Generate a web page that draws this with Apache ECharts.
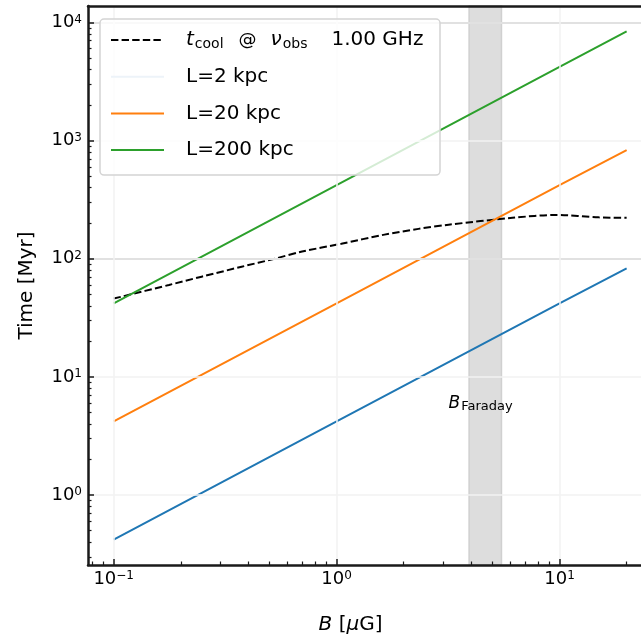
<!DOCTYPE html>
<html><head><meta charset="utf-8">
<script src="https://cdn.jsdelivr.net/npm/echarts@6/dist/echarts.min.js"></script>
<style>html,body{margin:0;padding:0;background:#fff}#c{width:641px;height:637px}</style>
</head><body><div id="c"></div>
<script>
// ---- data ----
const B_cool = [0.1, 0.177, 0.248, 0.375, 0.527, 0.70, 1.05, 1.64, 2.33, 3.18, 6.15, 9.7, 15.0, 20.0];
const t_cool = [46, 60, 70.5, 85.6, 100, 115, 134, 160, 179, 194, 222, 235, 224, 222];
const B_L = [0.1, 1, 10, 20];
const t_L2 = [0.42, 4.2, 42, 83];
const t_L20 = [4.2, 42, 420, 830];
const t_L200 = [42, 420, 4200, 8400];
const hLines = [100, 10000];
const bandB = [3.93, 5.49];
const annoPos = [3.18, 6.0];
const xTickExps = [-1, 0, 1];
const yTickExps = [0, 1, 2, 3, 4];
const xRange = [0.0767, 23.2];
const yRange = [0.256, 13770];

const nameCool = 'tcool';
const seriesNames = ['L=2 kpc', 'L=20 kpc', 'L=200 kpc'];
const colors = ['#1f77b4', '#ff7f0e', '#2ca02c'];

const F = 'DejaVu Sans';
const pairs = (xs, ys) => xs.map((x, i) => [x, ys[i]]);
const pow10 = e => Math.pow(10, e);

function minorVals(lo, hi) {
  const out = [];
  for (let e = Math.floor(Math.log10(lo)); e <= Math.ceil(Math.log10(hi)); e++) {
    for (let m = 2; m <= 9; m++) { const v = m * pow10(e); if (v > lo && v < hi) out.push(v); }
  }
  return out;
}
function tickFmt(v) {
  const e = Math.round(Math.log10(v));
  return '{base|10}{sup|' + (e < 0 ? '\u2212' + (-e) : e) + '}';
}
const tickRich = {
  base: { fontFamily: F, fontSize: 18, lineHeight: 18, color: '#000', verticalAlign: 'bottom', padding: [8, 0, 0, 0] },
  sup: { fontFamily: F, fontSize: 12, lineHeight: 12, color: '#000', verticalAlign: 'top' }
};
const spine = { show: true, onZero: false, lineStyle: { color: '#1a1a1a', width: 2.5 } };

const chart = echarts.init(document.getElementById('c'), null, { renderer: 'canvas' });
const option = {
  animation: false,
  backgroundColor: '#fff',
  grid: { left: 88, top: 6, right: 0, bottom: 72, show: false, containLabel: false, outerBoundsMode: 'none' },
  xAxis: [
    {
      type: 'log', min: xRange[0], max: xRange[1], position: 'bottom', z: 10,
      axisLine: spine,
      axisTick: { show: true, inside: true, length: 6, lineStyle: { color: '#1a1a1a', width: 1.5 }, customValues: xTickExps.map(pow10) },
      axisLabel: { show: true, margin: 5, formatter: tickFmt, rich: tickRich, customValues: xTickExps.map(pow10) },
      splitLine: { show: true, lineStyle: { color: '#f2f2f2', width: 1.5 } },
      minorTick: { show: false },
      name: '{it|B} [{it|\u03bc}G]', nameLocation: 'middle', nameGap: 50,
      nameTextStyle: { fontFamily: F, fontSize: 20, color: '#000', padding: [0, 28, 0, 0],
        rich: { it: { fontFamily: F, fontSize: 20, fontStyle: 'italic', color: '#000' } } }
    },
    {
      type: 'log', min: xRange[0], max: xRange[1], position: 'bottom', z: 10,
      axisLine: { show: false },
      axisTick: { show: true, inside: true, length: 3.5, lineStyle: { color: '#1a1a1a', width: 1.2 }, customValues: minorVals(xRange[0], xRange[1]) },
      axisLabel: { show: false }, splitLine: { show: false }
    },
    {
      type: 'log', min: xRange[0], max: xRange[1], position: 'top', z: 10,
      axisLine: spine, axisTick: { show: false }, axisLabel: { show: false }, splitLine: { show: false }
    }
  ],
  yAxis: [
    {
      type: 'log', min: yRange[0], max: yRange[1], position: 'left', z: 10,
      axisLine: spine,
      axisTick: { show: true, inside: true, length: 6, lineStyle: { color: '#1a1a1a', width: 1.5 }, customValues: yTickExps.map(pow10) },
      axisLabel: { show: true, margin: 6, formatter: tickFmt, rich: tickRich, customValues: yTickExps.map(pow10) },
      splitLine: { show: true, lineStyle: { color: '#f2f2f2', width: 1.5 } },
      name: 'Time [Myr]', nameLocation: 'middle', nameGap: 51, nameRotate: 90,
      nameTextStyle: { fontFamily: F, fontSize: 20, color: '#000' }
    },
    {
      type: 'log', min: yRange[0], max: yRange[1], position: 'left', z: 10,
      axisLine: { show: false },
      axisTick: { show: true, inside: true, length: 3.5, lineStyle: { color: '#1a1a1a', width: 1.2 }, customValues: minorVals(yRange[0], yRange[1]) },
      axisLabel: { show: false }, splitLine: { show: false }
    }
  ],
  legend: {
    orient: 'vertical', left: 100, top: 19,
    padding: [10, 8, 14, 10],
    itemWidth: 53, itemHeight: 14, itemGap: 14.7,
    backgroundColor: 'rgba(255,255,255,0.8)', borderColor: '#d4d4d4', borderWidth: 1.5, borderRadius: 4,
    z: 20,
    itemStyle: { opacity: 0, color: 'transparent', borderWidth: 0 },
    textStyle: {
      fontFamily: F, fontSize: 20, color: '#000', lineHeight: 22, padding: [0, 0, 0, 17], width: 246,
      rich: {
        it: { fontFamily: F, fontSize: 20, fontStyle: 'italic', color: '#000', lineHeight: 22 },
        sub: { fontFamily: F, fontSize: 14, lineHeight: 14, color: '#000', verticalAlign: 'bottom', padding: [7, 0, 0, 1] },
        at: { fontFamily: F, fontSize: 18, color: '#000', lineHeight: 22, padding: [0, 0, 0, 15] },
        nu: { fontFamily: F, fontSize: 20, fontStyle: 'italic', color: '#000', lineHeight: 22, padding: [0, 0, 0, 14] },
        rest: { fontFamily: F, fontSize: 20, color: '#000', lineHeight: 22, padding: [0, 0, 0, 24] }
      }
    },
    formatter: n => n === nameCool ? '{it|t}{sub|cool}{at|@}{nu|\u03bd}{sub|obs}{rest|1.00 GHz}' : n,
    data: [
      { name: nameCool },
      { name: seriesNames[0], lineStyle: { color: '#edf3f9' } },
      { name: seriesNames[1] },
      { name: seriesNames[2] }
    ]
  },
  series: [
    {
      name: 'band', type: 'line', data: [], z: 1, silent: true,
      markArea: {
        silent: true,
        itemStyle: { color: '#dddddd', borderColor: '#d0d0d0', borderWidth: 1.5 },
        data: [[{ xAxis: bandB[0] }, { xAxis: bandB[1] }]]
      },
      markPoint: {
        symbol: 'circle', symbolSize: 0, silent: true,
        data: [{ coord: annoPos }],
        label: {
          show: true, position: 'right', distance: 0,
          formatter: '{bb|B}{ss|Faraday}',
          rich: {
            bb: { fontFamily: F, fontSize: 17, fontStyle: 'italic', color: '#000', lineHeight: 20 },
            ss: { fontFamily: F, fontSize: 13, color: '#000', lineHeight: 13, verticalAlign: 'bottom', padding: [6, 0, 0, 1] }
          }
        }
      }
    },
    {
      name: 'hl', type: 'line', data: [], z: 2, silent: true,
      markLine: {
        silent: true, symbol: 'none', label: { show: false },
        lineStyle: { color: '#b0b0b0', width: 2, type: 'solid' },
        data: hLines.map(v => ({ yAxis: v }))
      }
    },
    {
      name: nameCool, type: 'line', data: pairs(B_cool, t_cool), symbol: 'none', smooth: 0.3, z: 3,
      lineStyle: { color: '#000', width: 2, type: [7.4, 3.2] }, itemStyle: { color: '#000' }
    },
    ...seriesNames.map((n, i) => ({
      name: n, type: 'line', data: pairs(B_L, [t_L2, t_L20, t_L200][i]), symbol: 'none', z: 3,
      lineStyle: { color: colors[i], width: 2 }, itemStyle: { color: colors[i] }
    }))
  ]
};
chart.setOption(option);
</script></body></html>
